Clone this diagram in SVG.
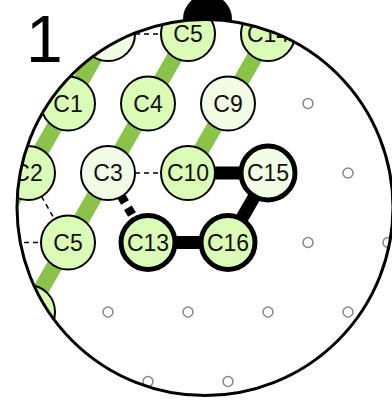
<svg xmlns="http://www.w3.org/2000/svg" width="392" height="400" viewBox="0 0 392 400">
<defs>
<clipPath id="big"><circle cx="205" cy="207.5" r="188"/></clipPath>
<style>
.n{fill:#dbfcb6;stroke:#000;stroke-width:2}
.p{fill:#f1fde4;stroke:#000;stroke-width:2}
.t{stroke-width:5}
.l{font-family:"Liberation Sans",Arial,sans-serif;font-size:23px;text-anchor:middle;fill:#111}
.s{fill:#fff;stroke:#888;stroke-width:1.5}
.st{stroke:#8bc34a;stroke-width:16;fill:none}
.d{stroke:#000;stroke-width:1.5;stroke-dasharray:5 4;fill:none}
.k{stroke:#000;stroke-width:13;fill:none}
</style>
</defs>
<rect width="392" height="400" fill="#fff"/>
<text x="26" y="62" font-family="'Liberation Sans',Arial,sans-serif" font-size="66" fill="#000">1</text>
<circle cx="207.5" cy="19" r="24.5" fill="#000"/>
<circle cx="205" cy="207.5" r="188" fill="#fff"/>
<g clip-path="url(#big)">
<g id="stripes">
<line class="st" x1="228" y1="-35.5" x2="-12" y2="381.5"/>
<line class="st" x1="148" y1="-35.5" x2="-52" y2="312"/>
<line class="st" x1="308" y1="-35.5" x2="188" y2="173"/>
</g>
<g id="connectors">
<line class="d" x1="108" y1="34" x2="188" y2="34"/>
<line class="d" x1="108" y1="173" x2="188" y2="173"/>
<line class="d" x1="28" y1="173" x2="68" y2="242.5"/>
<line class="d" x1="-12" y1="242.5" x2="68" y2="242.5"/>
<line stroke="#000" stroke-width="9" stroke-dasharray="8 6" stroke-dashoffset="2" x1="108" y1="173" x2="148" y2="242.5"/>
<line class="k" x1="188" y1="173" x2="268" y2="173"/>
<line class="k" x1="268" y1="173" x2="228" y2="242.5"/>
<line class="k" x1="148" y1="242.5" x2="228" y2="242.5"/>
</g>
<g id="faded"><circle class="p" cx="108" cy="34" r="27"/></g>
<g id="C5a"><circle class="n" cx="188" cy="34" r="27"/><text class="l" x="188" y="42">C5</text></g>
<g id="C14"><circle class="n" cx="268" cy="34" r="27"/><text class="l" x="268" y="42">C14</text></g>
<g id="C1"><circle class="n" cx="68" cy="103.5" r="27"/><text class="l" x="68" y="111.5">C1</text></g>
<g id="C4"><circle class="n" cx="148" cy="103.5" r="27"/><text class="l" x="148" y="111.5">C4</text></g>
<g id="C9"><circle class="p" cx="228" cy="103.5" r="27"/><text class="l" x="228" y="111.5">C9</text></g>
<g id="C2"><circle class="n" cx="28" cy="173" r="27"/><text class="l" x="28" y="181">C2</text></g>
<g id="C3"><circle class="p" cx="108" cy="173" r="27"/><text class="l" x="108" y="181">C3</text></g>
<g id="C10"><circle class="n" cx="188" cy="173" r="27"/><text class="l" x="188" y="181">C10</text></g>
<g id="C15"><circle class="p t" cx="268" cy="173" r="27"/><text class="l" x="268" y="181">C15</text></g>
<g id="C5b"><circle class="n" cx="68" cy="242.5" r="27"/><text class="l" x="68" y="250.5">C5</text></g>
<g id="C13"><circle class="n t" cx="148" cy="242.5" r="27"/><text class="l" x="148" y="250.5">C13</text></g>
<g id="C16"><circle class="n t" cx="228" cy="242.5" r="27"/><text class="l" x="228" y="250.5">C16</text></g>
<g id="partial"><circle class="n" cx="28" cy="312" r="27"/></g>
<g id="sites">
<circle class="s" cx="308" cy="103.5" r="5"/>
<circle class="s" cx="348" cy="173" r="5"/>
<circle class="s" cx="308" cy="242.5" r="5"/>
<circle class="s" cx="388" cy="242.5" r="5"/>
<circle class="s" cx="108" cy="312" r="5"/>
<circle class="s" cx="188" cy="312" r="5"/>
<circle class="s" cx="268" cy="312" r="5"/>
<circle class="s" cx="348" cy="312" r="5"/>
<circle class="s" cx="148" cy="381.5" r="5"/>
<circle class="s" cx="228" cy="381.5" r="5"/>
</g>
</g>
<circle cx="205" cy="207.5" r="188" fill="none" stroke="#000" stroke-width="3"/>
</svg>
